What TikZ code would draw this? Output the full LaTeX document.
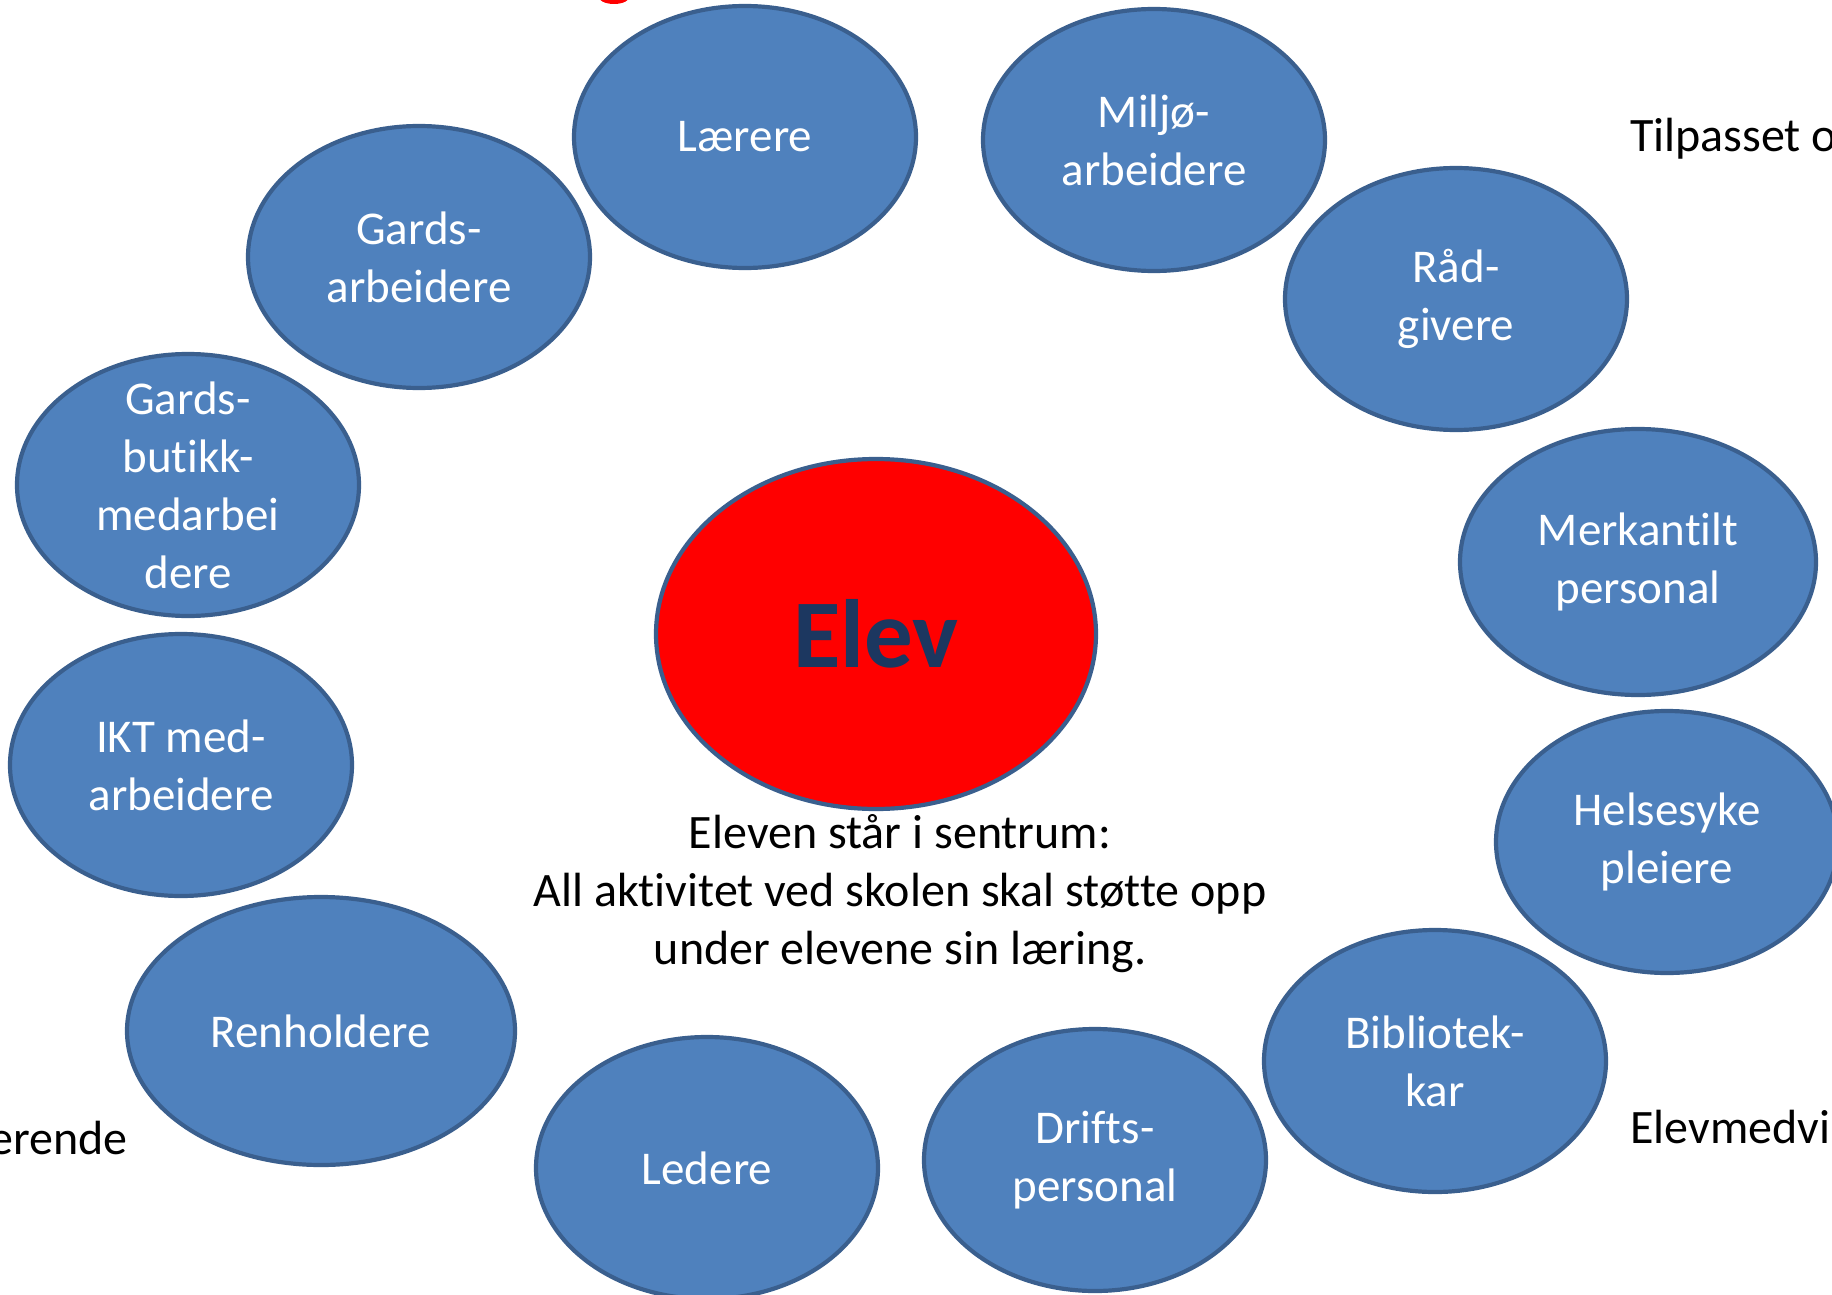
\documentclass[tikz,border=0pt]{standalone}
\usepackage{fontspec}
\setmainfont{Carlito}[Ligatures=NoCommon]
\usetikzlibrary{shapes.geometric}
\definecolor{bfill}{HTML}{4F81BD}
\definecolor{bline}{HTML}{3A5F8E}
\definecolor{navy}{HTML}{1C3760}
\tikzset{
  bubble/.style={ellipse, draw=bline, fill=bfill, line width=4.2pt, inner sep=0pt,
    minimum width=342pt, minimum height=262pt, text=white, align=center,
    font=\fontsize{47}{58}\selectfont},
  wtext/.style={inner sep=0pt, text=white, align=center, font=\fontsize{47}{58}\selectfont},
  plain/.style={inner sep=0pt, text=black, font=\fontsize{48}{58}\selectfont}
}
\begin{document}
\begin{tikzpicture}[x=1pt,y=-1pt]
\useasboundingbox (0,0) rectangle (1832,1295);
\fill[red] (614,-4) ellipse [x radius=16, y radius=8];
\node[bubble] (laerere) at (745,137) {Lærere};
\node[bubble] (miljo) at (1154,140) {Miljø-\\arbeidere};
\node[bubble] (gardsarb) at (419,257) {Gards-\\arbeidere};
\node[bubble] (rad) at (1456,299) {Råd-\\givere};
\node[bubble] (butikk) at (188,485) {};
\node[wtext] (butikktxt) at (butikk.center) {Gards-\\butikk-\\medarbei\\dere};
\node[bubble, minimum width=356pt, minimum height=266pt] (merk) at (1638,562) {Merkantilt\\personal};
\node[ellipse, draw=bline, fill=red, line width=4.2pt, inner sep=0pt,
  minimum width=440pt, minimum height=350pt, text=navy,
  font=\fontsize{97}{110}\selectfont\bfseries] (elev) at (876,634) {Elev};
\node[bubble] (ikt) at (181,765) {IKT med-\\arbeidere};
\node[bubble] (helse) at (1667,842) {Helsesyke\\pleiere};
\node[bubble, minimum width=388pt, minimum height=268pt] (renh) at (321,1031) {Renholdere};
\node[bubble] (ledere) at (707,1168) {Ledere};
\node[bubble] (drifts) at (1095,1160) {Drifts-\\personal};
\node[bubble] (bibl) at (1435,1061) {Bibliotek-\\kar};
\node[plain, align=center] (sentrum) at (900,894) {Eleven står i sentrum:\\All aktivitet ved skolen skal støtte opp\\under elevene sin læring.};
\node[plain, anchor=base west] (tilp) at (1630,152) {Tilpasset o};
\node[plain, anchor=base east] (erende) at (128,1154) {erende};
\node[plain, anchor=base west] (elevmed) at (1630,1143) {Elevmedvi};
\end{tikzpicture}
\end{document}
